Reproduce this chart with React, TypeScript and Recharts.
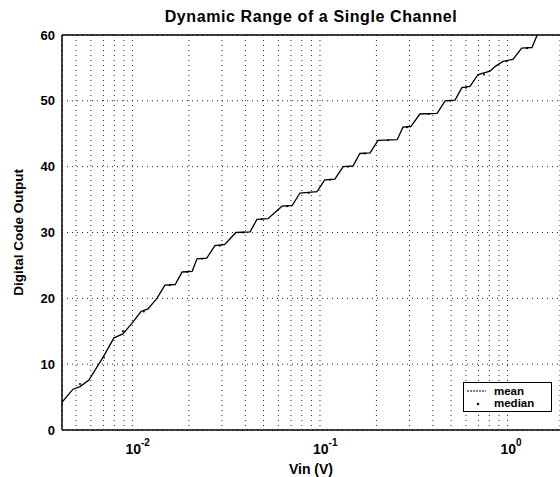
import React from 'react';
import { ComposedChart, Line, XAxis, YAxis, CartesianGrid, ReferenceLine } from 'recharts';

const FONT = '"Liberation Sans", Arial, Helvetica, sans-serif';

// Mean digital code output vs input voltage (V)
const meanVin = [0.00421, 0.00482, 0.00525, 0.00586, 0.00705, 0.00797, 0.00889, 0.00993, 0.0111, 0.0121, 0.0135,
  0.0149, 0.0169, 0.0184, 0.0208, 0.0221, 0.0249, 0.0275, 0.0311, 0.0356, 0.0424, 0.0461, 0.0528, 0.0627, 0.071,
  0.0782, 0.0964, 0.106, 0.12, 0.133, 0.15, 0.163, 0.185, 0.204, 0.258, 0.277, 0.305, 0.341, 0.421, 0.465, 0.525,
  0.571, 0.631, 0.697, 0.807, 0.857, 0.946, 1.07, 1.19, 1.35, 1.44];
const meanCode = [4.2, 6.2, 6.6, 7.6, 11.3, 14.0, 14.6, 16.2, 18.0, 18.4, 20.0,
  22.0, 22.1, 24.0, 24.1, 26.0, 26.1, 28.0, 28.2, 30.0, 30.1, 32.0, 32.1, 34.0, 34.1,
  36.0, 36.2, 38.0, 38.1, 40.0, 40.1, 42.0, 42.1, 44.0, 44.1, 46.0, 46.1, 48.0, 48.1, 50.0, 50.1,
  52.0, 52.2, 54.0, 54.5, 55.2, 56.0, 56.3, 58.0, 58.1, 60.0];

// Median digital code output
const medianVin = [0.00421, 0.00525, 0.00705, 0.00889, 0.0115, 0.0158, 0.0196, 0.0235, 0.0292, 0.039, 0.049,
  0.0668, 0.087, 0.113, 0.141, 0.174, 0.23, 0.291, 0.38, 0.495, 0.6, 0.75, 0.99, 1.27];
const medianCode = [4, 7, 11, 15, 18, 22, 24, 26, 28, 30, 32, 34, 36, 38, 40, 42, 44, 46, 48, 50, 52, 54, 56, 58];

const xTicks = [0.005, 0.006, 0.007, 0.008, 0.009, 0.01, 0.02, 0.03, 0.04, 0.05, 0.06, 0.07, 0.08, 0.09,
  0.1, 0.2, 0.3, 0.4, 0.5, 0.6, 0.7, 0.8, 0.9, 1];
const xLabelTicks = [0.01, 0.1, 1];
const xDomain = [0.00421, 1.905];
const yTicks = [0, 10, 20, 30, 40, 50, 60];
const yDomain = [0, 60];

const meanData = meanVin.map((v, i) => ({ vin: v, code: meanCode[i] }));
const medianData = medianVin.map((v, i) => ({ vin: v, code: medianCode[i] }));

const W = 560;
const H = 477;

function XTick(props: any) {
  const { x, y, payload } = props;
  const v = payload.value;
  if (!xLabelTicks.includes(v)) return null;
  const exp = Math.round(Math.log10(v));
  return (
    <text x={x - 7} y={y + 24} fontSize={14} fontWeight="bold" fontFamily={FONT} fill="#000" textAnchor="start">
      <tspan>10</tspan>
      <tspan dy={-8} fontSize={10}>{String(exp)}</tspan>
    </text>
  );
}

export default function App() {
  return (
    <div style={{ position: 'absolute', left: 0, top: 0, width: W, height: H, background: '#fff', fontFamily: FONT, overflow: 'hidden' }}>
      <div style={{ position: 'absolute', left: 62, width: 498, top: 8, lineHeight: '18px', textAlign: 'center', fontSize: 16, letterSpacing: 0.6, fontWeight: 'bold', color: '#000' }}>
        Dynamic Range of a Single Channel
      </div>
      <ComposedChart width={W} height={H} margin={{ top: 35, right: 0, bottom: 0, left: 0 }}>
        <CartesianGrid stroke="#222" strokeWidth={1} strokeDasharray="1 4" />
        <XAxis
          type="number"
          dataKey="vin"
          scale="log"
          domain={xDomain}
          allowDataOverflow
          ticks={xTicks}
          interval={0}
          tick={<XTick />}
          tickLine={false}
          tickSize={0}
          tickMargin={0}
          height={47}
          axisLine={{ stroke: '#000', strokeWidth: 1.5 }}
          label={{ value: 'Vin (V)', position: 'insideBottom', offset: 3, fill: '#000', fontSize: 14, fontWeight: 'bold', fontFamily: FONT }}
        />
        <YAxis
          type="number"
          domain={yDomain}
          ticks={yTicks}
          interval={0}
          width={62}
          tickLine={false}
          tickSize={0}
          tickMargin={7}
          axisLine={{ stroke: '#000', strokeWidth: 1.5 }}
          tick={{ fill: '#000', fontSize: 13, fontWeight: 'bold', fontFamily: FONT }}
          label={{ value: 'Digital Code Output', angle: -90, position: 'insideLeft', offset: 18, fill: '#000', fontSize: 13.5, fontWeight: 'bold', fontFamily: FONT, style: { textAnchor: 'middle' } }}
        />
        <ReferenceLine y={60} stroke="#000" strokeWidth={1.5} />
        <Line data={meanData} dataKey="code" type="linear" stroke="#000" strokeWidth={1.3} dot={false} isAnimationActive={false} name="mean" />
        <Line data={medianData} dataKey="code" type="linear" stroke="none" dot={{ r: 1, fill: '#000', stroke: 'none' }} isAnimationActive={false} name="median" />
      </ComposedChart>
      <div style={{ position: 'absolute', left: 463, top: 382, width: 89, height: 30, border: '1px solid #000', background: '#fff', boxSizing: 'border-box', fontSize: 11.5, fontWeight: 'bold', color: '#000', lineHeight: '12px', paddingTop: 2 }}>
        <div style={{ display: 'flex', alignItems: 'center' }}>
          <svg width={30} height={12}><line x1={3} y1={6} x2={22} y2={6} stroke="#000" strokeWidth={1} strokeDasharray="2 1" /></svg>
          <span>mean</span>
        </div>
        <div style={{ display: 'flex', alignItems: 'center' }}>
          <svg width={30} height={12}><circle cx={14} cy={7} r={1.2} fill="#000" /></svg>
          <span>median</span>
        </div>
      </div>
    </div>
  );
}
